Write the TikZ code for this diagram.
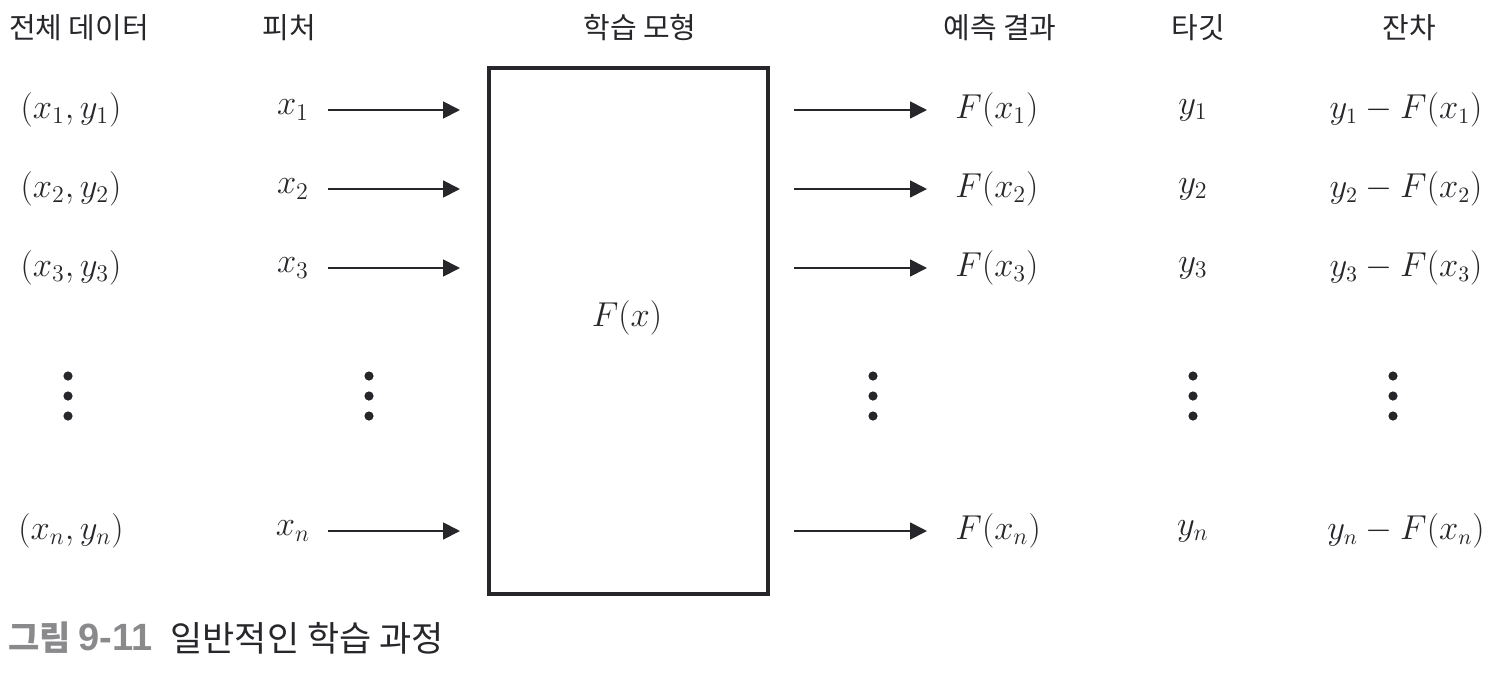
\documentclass[tikz,border=0pt]{standalone}
\usepackage{fontspec}
\setmainfont{Liberation Sans}
\newfontfamily\kr{Noto Sans CJK KR}
\newfontfamily\capnum{Liberation Sans}
\usetikzlibrary{arrows.meta}
\definecolor{ink}{HTML}{26262B}
\definecolor{capgray}{HTML}{8A8A8C}
\tikzset{
  hdr/.style={font=\kr\fontsize{14.5}{17}\selectfont, text=ink, inner sep=0pt},
  mth/.style={font=\fontsize{17}{20}\selectfont, text=ink, inner sep=0pt},
  mthr/.style={font=\fontsize{16}{19}\selectfont, text=ink, inner sep=0pt},
  arr/.style={draw=ink, line width=0.9pt, -{Triangle[length=8.5pt,width=8.5pt]}},
  dotc/.style={fill=ink, circle, inner sep=0pt, minimum size=4.6pt},
  modelbox/.style={draw=ink, line width=1.6pt, inner sep=0pt}
}
\begin{document}
\begin{tikzpicture}[x=0.5pt,y=-0.5pt]
\useasboundingbox (0,0) rectangle (1512,676);
% headers
\node[hdr] (h1) at (79,28) {전체 데이터};
\node[hdr] (h2) at (289,28) {피처};
\node[hdr] (h3) at (640,28) {학습 모형};
\node[hdr] (h4) at (1000,28) {예측 결과};
\node[hdr] (h5) at (1198,28) {타깃};
\node[hdr] (h6) at (1409,28) {잔차};
% model box
\node[modelbox, minimum width=139.5pt, minimum height=263pt] (box) at (628.5,331) {};
\node[mth] (fx) at (627,318) {$F(x)$};
% rows
\foreach \i/\s/\y in {1/1/110, 2/2/189, 3/3/268, n/n/531}{
  \node[mth] (d\i) at (71,\y) {$(x_{\s},y_{\s})$};
  \node[mth] (f\i) at (293,\y) {$x_{\s}$};
  \coordinate (la\i) at (328,\y);
  \coordinate (lb\i) at (460,\y);
  \coordinate (ra\i) at (794,\y);
  \coordinate (rb\i) at (927,\y);
  \node[mth, anchor=west] (p\i) at (955,\y) {$F(x_{\s})$};
  \node[mth] (t\i) at (1193,\y) {$y_{\s}$};
  \node[mthr] (r\i) at (1406,\y) {$y_{\s}-F(x_{\s})$};
  \draw[arr] (la\i) -- (lb\i);
  \draw[arr] (ra\i) -- (rb\i);
}
% vertical dots
\foreach \x [count=\k] in {68,369,873,1193,1393}{
  \node[dotc] (va\k) at (\x,376) {};
  \node[dotc] (vb\k) at (\x,396) {};
  \node[dotc] (vc\k) at (\x,416) {};
}
% caption
\node[anchor=west, inner sep=0pt, text=capgray, font=\kr\bfseries\fontsize{17}{20}\selectfont] (cap1) at (8,638) {그림 {\capnum\bfseries\fontsize{19}{20}\selectfont 9-11}};
\node[anchor=west, inner sep=0pt, text=ink, font=\kr\fontsize{17.5}{20}\selectfont] (cap2) at (170,638) {일반적인 학습 과정};
\end{tikzpicture}
\end{document}
